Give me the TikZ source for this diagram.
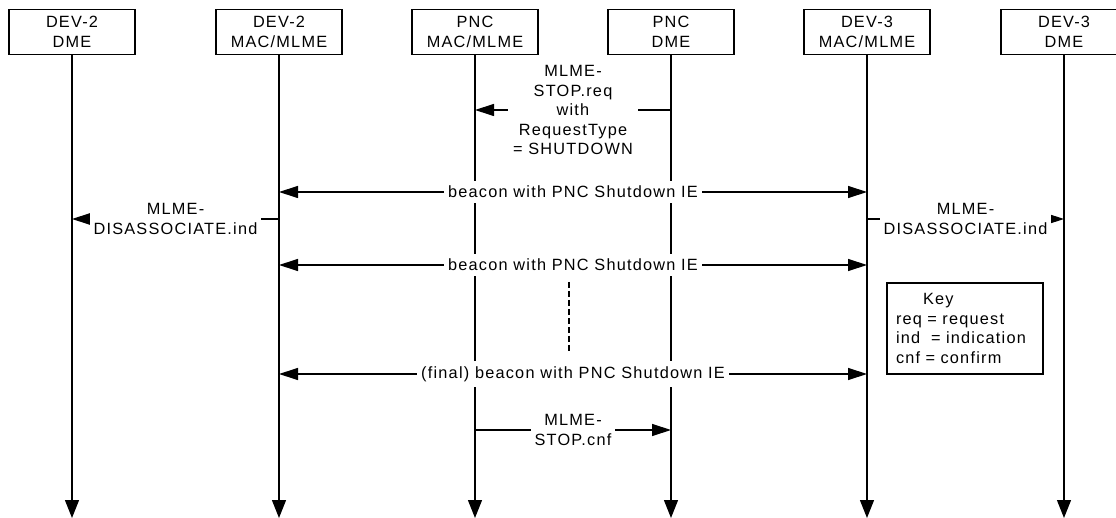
\documentclass[tikz,border=0pt]{standalone}
\usepackage{fontspec}
\setmainfont{Liberation Sans}[LetterSpace=7.5]
\usetikzlibrary{arrows.meta}
\newcommand\diagfont{\fontsize{16.3pt}{19.5pt}\selectfont}
\begin{document}
\begin{tikzpicture}[x=1pt, y=-1pt, line width=1.2pt, font=\diagfont,
  entity/.style={draw, fill=white, minimum width=126pt, minimum height=45.5pt,
                 align=center, inner sep=0pt},
  lifeline/.style={-{Triangle[length=18pt,width=14pt]}},
  msg/.style={-{Triangle[length=19pt,width=12pt]}},
  bimsg/.style={{Triangle[length=19pt,width=12pt]}-{Triangle[length=19pt,width=12pt]}},
  lbl/.style={fill=white, inner xsep=4pt, inner ysep=5pt, align=center},
  keybox/.style={draw, minimum width=156pt, minimum height=91pt, align=left,
                 inner sep=0pt, text width=138pt},
  ellipsis/.style={line width=1.6pt, dash pattern=on 6pt off 3pt}
]
\clip (0,0) rectangle (1116,518);

% entities
\node[entity] (b1) at (72,32)   {DEV-2\\DME};
\node[entity] (b2) at (279,32)  {DEV-2\\MAC/MLME};
\node[entity] (b3) at (475,32)  {PNC\\MAC/MLME};
\node[entity] (b4) at (671,32)  {PNC\\DME};
\node[entity] (b5) at (867,32)  {DEV-3\\MAC/MLME};
\node[entity] (b6) at (1064,32) {DEV-3\\DME};

% lifelines
\coordinate (bottom) at (0,518);
\foreach \n in {b1,b2,b3,b4,b5,b6}
  \draw[lifeline] (\n.south) -- (\n.south |- bottom);

% message rows
\coordinate (r1) at (0,110);
\coordinate (r2) at (0,192);
\coordinate (r3) at (0,219);
\coordinate (r4) at (0,265);
\coordinate (r5) at (0,374);
\coordinate (r6) at (0,430);

\draw[msg] (b4 |- r1) -- node[lbl, minimum width=130pt] (m1)
  {MLME-\\STOP.req\\with\\RequestType\\= SHUTDOWN} (b3 |- r1);

\draw[bimsg] (b2 |- r2) -- node[lbl] (m2) {beacon with PNC Shutdown IE} (b5 |- r2);

\draw[msg] (b2 |- r3) -- node[lbl] (m3) {MLME-\\DISASSOCIATE.ind} (b1 |- r3);
\draw[msg] (b5 |- r3) -- node[lbl] (m4) {MLME-\\DISASSOCIATE.ind} (b6 |- r3);

\draw[bimsg] (b2 |- r4) -- node[lbl] (m5) {beacon with PNC Shutdown IE} (b5 |- r4);

% further beacons omitted
\coordinate (d1) at (569,282);
\coordinate (d2) at (569,352);
\draw[ellipsis] (d1) -- (d2);

\draw[bimsg] (b2 |- r5) -- node[lbl] (m6) {(final) beacon with PNC Shutdown IE} (b5 |- r5);

\draw[msg] (b3 |- r6) -- node[lbl] (m7) {MLME-\\STOP.cnf} (b4 |- r6);

% abbreviations
\node[keybox] (key) at (965,328.5)
  {\hspace*{27pt}Key\\req = request\\ind\ \ = indication\\cnf = confirm};
\end{tikzpicture}
\end{document}
